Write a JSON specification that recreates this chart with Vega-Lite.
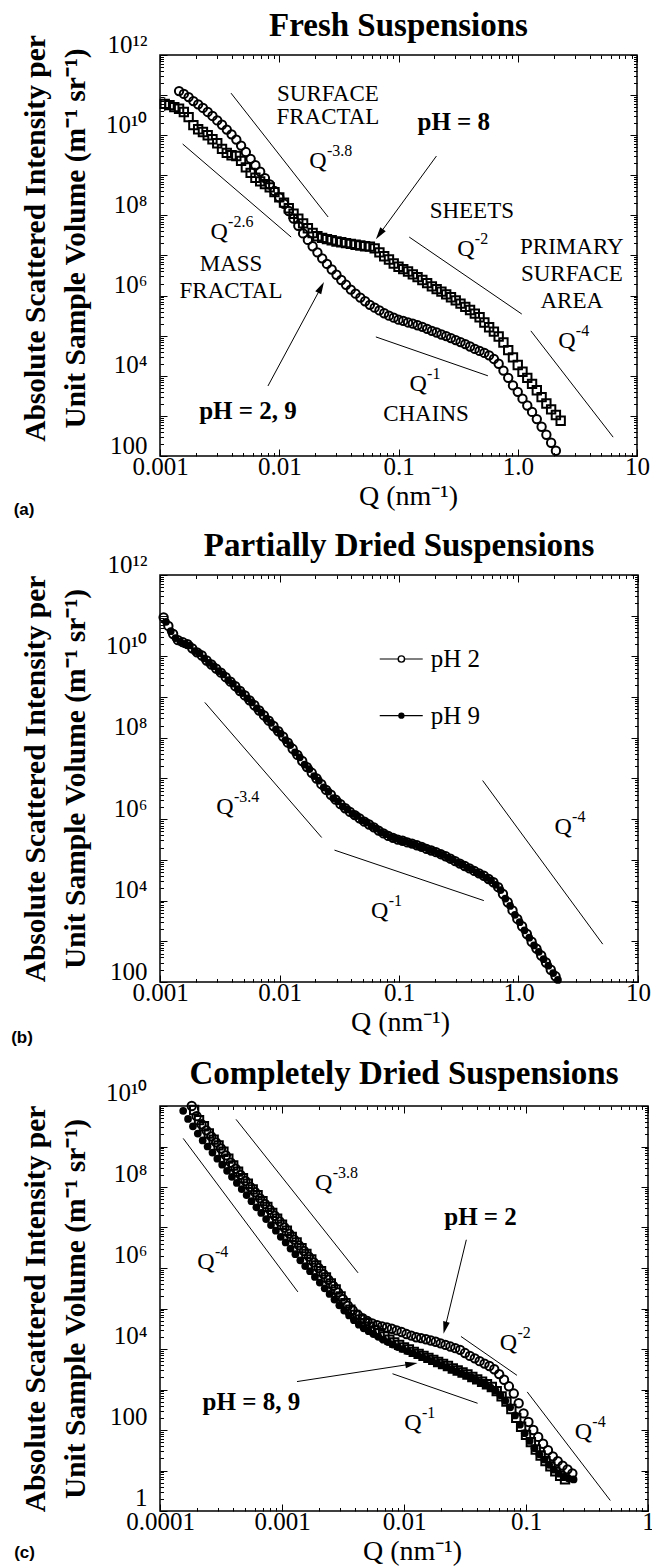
{
"$schema": "https://vega.github.io/schema/vega-lite/v6.json",
"background": "white",
"padding": {"left": 10, "top": 9, "right": 0, "bottom": 0},
"config": {
 "font": "Liberation Serif",
 "view": {"stroke": "black", "strokeWidth": 1.5},
 "axis": {"domain": false, "grid": false, "tickColor": "black", "tickWidth": 1, "labelColor": "black", "titleColor": "black", "labelFont": "Liberation Serif", "titleFont": "Liberation Serif", "labelFlush": false, "labelOverlap": false},
 "title": {"font": "Liberation Serif", "fontSize": 33, "fontWeight": "bold", "color": "black", "anchor": "middle", "offset": -11},
 "text": {"font": "Liberation Serif", "color": "black"}
},
"datasets": {
 "a_pts": [
  {"s":"c","q":1.445e-3,"i":1.26e11},{"s":"c","q":1.585e-3,"i":1.07e11},{"s":"c","q":1.738e-3,"i":8.91e10},{"s":"c","q":1.905e-3,"i":7.08e10},{"s":"c","q":2.089e-3,"i":5.89e10},{"s":"c","q":2.291e-3,"i":4.79e10},{"s":"c","q":2.512e-3,"i":3.80e10},{"s":"c","q":2.754e-3,"i":3.02e10},{"s":"c","q":3.020e-3,"i":2.34e10},{"s":"c","q":3.311e-3,"i":1.82e10},{"s":"c","q":3.631e-3,"i":1.38e10},{"s":"c","q":3.981e-3,"i":1.05e10},{"s":"c","q":4.365e-3,"i":7.76e9},{"s":"c","q":4.786e-3,"i":5.50e9},{"s":"c","q":5.248e-3,"i":3.80e9},{"s":"c","q":5.754e-3,"i":2.57e9},{"s":"c","q":6.310e-3,"i":1.78e9},{"s":"c","q":6.918e-3,"i":1.23e9},{"s":"c","q":7.586e-3,"i":8.51e8},{"s":"c","q":8.318e-3,"i":5.89e8},{"s":"c","q":9.120e-3,"i":4.07e8},{"s":"c","q":0.01,"i":2.82e8},{"s":"c","q":0.01096,"i":1.95e8},{"s":"c","q":0.01202,"i":1.29e8},{"s":"c","q":0.01318,"i":8.32e7},{"s":"c","q":0.01445,"i":5.50e7},{"s":"c","q":0.01585,"i":3.55e7},{"s":"c","q":0.01738,"i":2.45e7},{"s":"c","q":0.01905,"i":1.70e7},{"s":"c","q":0.02089,"i":1.20e7},{"s":"c","q":0.02291,"i":8.51e6},{"s":"c","q":0.02512,"i":6.17e6},{"s":"c","q":0.02754,"i":4.47e6},{"s":"c","q":0.03020,"i":3.31e6},{"s":"c","q":0.03311,"i":2.45e6},{"s":"c","q":0.03631,"i":1.86e6},{"s":"c","q":0.03981,"i":1.41e6},{"s":"c","q":0.04365,"i":1.12e6},{"s":"c","q":0.04786,"i":8.91e5},{"s":"c","q":0.05248,"i":7.24e5},{"s":"c","q":0.05754,"i":5.89e5},{"s":"c","q":0.06310,"i":5.01e5},{"s":"c","q":0.06918,"i":4.27e5},{"s":"c","q":0.07586,"i":3.63e5},{"s":"c","q":0.08318,"i":3.16e5},{"s":"c","q":0.09120,"i":2.82e5},{"s":"c","q":0.1,"i":2.51e5},{"s":"c","q":0.1096,"i":2.34e5},{"s":"c","q":0.1202,"i":2.14e5},{"s":"c","q":0.1318,"i":2.00e5},{"s":"c","q":0.1445,"i":1.82e5},{"s":"c","q":0.1585,"i":1.66e5},{"s":"c","q":0.1738,"i":1.48e5},{"s":"c","q":0.1905,"i":1.32e5},{"s":"c","q":0.2089,"i":1.20e5},{"s":"c","q":0.2291,"i":1.07e5},{"s":"c","q":0.2512,"i":9.77e4},{"s":"c","q":0.2754,"i":8.71e4},{"s":"c","q":0.3020,"i":7.76e4},{"s":"c","q":0.3311,"i":6.92e4},{"s":"c","q":0.3631,"i":6.17e4},{"s":"c","q":0.3981,"i":5.37e4},{"s":"c","q":0.4365,"i":4.68e4},{"s":"c","q":0.4786,"i":4.17e4},{"s":"c","q":0.5248,"i":3.72e4},{"s":"c","q":0.5754,"i":3.24e4},{"s":"c","q":0.6310,"i":2.63e4},{"s":"c","q":0.6918,"i":2.00e4},{"s":"c","q":0.7586,"i":1.35e4},{"s":"c","q":0.8318,"i":8.91e3},{"s":"c","q":0.9120,"i":5.75e3},{"s":"c","q":1.0,"i":3.98e3},{"s":"c","q":1.096,"i":2.69e3},{"s":"c","q":1.202,"i":1.82e3},{"s":"c","q":1.318,"i":1.26e3},{"s":"c","q":1.445,"i":832},{"s":"c","q":1.585,"i":537},{"s":"c","q":1.738,"i":339},{"s":"c","q":1.905,"i":214},{"s":"c","q":2.089,"i":135},
  {"s":"s","q":1.096e-3,"i":6.03e10},{"s":"s","q":1.202e-3,"i":5.62e10},{"s":"s","q":1.318e-3,"i":5.01e10},{"s":"s","q":1.445e-3,"i":4.57e10},{"s":"s","q":1.585e-3,"i":3.80e10},{"s":"s","q":1.738e-3,"i":2.82e10},{"s":"s","q":1.905e-3,"i":1.78e10},{"s":"s","q":2.089e-3,"i":1.41e10},{"s":"s","q":2.291e-3,"i":1.20e10},{"s":"s","q":2.512e-3,"i":1.0e10},{"s":"s","q":2.754e-3,"i":7.94e9},{"s":"s","q":3.020e-3,"i":6.31e9},{"s":"s","q":3.311e-3,"i":4.57e9},{"s":"s","q":3.631e-3,"i":3.63e9},{"s":"s","q":3.981e-3,"i":3.16e9},{"s":"s","q":4.365e-3,"i":3.02e9},{"s":"s","q":4.786e-3,"i":2.29e9},{"s":"s","q":5.248e-3,"i":1.58e9},{"s":"s","q":5.754e-3,"i":1.15e9},{"s":"s","q":6.310e-3,"i":8.71e8},{"s":"s","q":6.918e-3,"i":7.08e8},{"s":"s","q":7.586e-3,"i":6.03e8},{"s":"s","q":8.318e-3,"i":5.01e8},{"s":"s","q":9.120e-3,"i":3.80e8},{"s":"s","q":0.01,"i":2.82e8},{"s":"s","q":0.01096,"i":2.09e8},{"s":"s","q":0.01202,"i":1.51e8},{"s":"s","q":0.01318,"i":1.10e8},{"s":"s","q":0.01445,"i":8.32e7},{"s":"s","q":0.01585,"i":6.31e7},{"s":"s","q":0.01738,"i":4.79e7},{"s":"s","q":0.01905,"i":3.63e7},{"s":"s","q":0.02089,"i":3.02e7},{"s":"s","q":0.02291,"i":2.75e7},{"s":"s","q":0.02512,"i":2.57e7},{"s":"s","q":0.02754,"i":2.40e7},{"s":"s","q":0.03020,"i":2.24e7},{"s":"s","q":0.03311,"i":2.14e7},{"s":"s","q":0.03631,"i":2.04e7},{"s":"s","q":0.03981,"i":1.95e7},{"s":"s","q":0.04365,"i":1.86e7},{"s":"s","q":0.04786,"i":1.78e7},{"s":"s","q":0.05248,"i":1.70e7},{"s":"s","q":0.05754,"i":1.66e7},{"s":"s","q":0.06310,"i":1.51e7},{"s":"s","q":0.06918,"i":1.20e7},{"s":"s","q":0.07586,"i":9.55e6},{"s":"s","q":0.08318,"i":7.94e6},{"s":"s","q":0.09120,"i":6.31e6},{"s":"s","q":0.1,"i":5.25e6},{"s":"s","q":0.1096,"i":4.57e6},{"s":"s","q":0.1202,"i":3.98e6},{"s":"s","q":0.1318,"i":3.39e6},{"s":"s","q":0.1445,"i":2.88e6},{"s":"s","q":0.1585,"i":2.45e6},{"s":"s","q":0.1738,"i":2.04e6},{"s":"s","q":0.1905,"i":1.70e6},{"s":"s","q":0.2089,"i":1.45e6},{"s":"s","q":0.2291,"i":1.26e6},{"s":"s","q":0.2512,"i":1.07e6},{"s":"s","q":0.2754,"i":9.12e5},{"s":"s","q":0.3020,"i":7.59e5},{"s":"s","q":0.3311,"i":6.31e5},{"s":"s","q":0.3631,"i":5.25e5},{"s":"s","q":0.3981,"i":4.37e5},{"s":"s","q":0.4365,"i":3.55e5},{"s":"s","q":0.4786,"i":2.88e5},{"s":"s","q":0.5248,"i":2.14e5},{"s":"s","q":0.5754,"i":1.62e5},{"s":"s","q":0.6310,"i":1.26e5},{"s":"s","q":0.6918,"i":9.55e4},{"s":"s","q":0.7586,"i":6.76e4},{"s":"s","q":0.8318,"i":4.37e4},{"s":"s","q":0.9120,"i":2.88e4},{"s":"s","q":1.0,"i":1.86e4},{"s":"s","q":1.096,"i":1.26e4},{"s":"s","q":1.202,"i":8.91e3},{"s":"s","q":1.318,"i":6.31e3},{"s":"s","q":1.445,"i":4.37e3},{"s":"s","q":1.585,"i":2.95e3},{"s":"s","q":1.738,"i":2.04e3},{"s":"s","q":1.905,"i":1.45e3},{"s":"s","q":2.089,"i":1.05e3},{"s":"s","q":2.291,"i":759}
 ],
 "a_err": [{"q":1.096e-3,"i":3.98e10,"i2":8.91e10}],
 "a_guides": [
  {"g":"m","q":1.549e-3,"i":6.03e9},{"g":"m","q":0.01259,"i":2.88e7},
  {"g":"s","q":3.94e-3,"i":1.12e11},{"g":"s","q":0.0257,"i":9.12e7},
  {"g":"c","q":0.0646,"i":9.33e4},{"g":"c","q":0.562,"i":1.0e4},
  {"g":"h","q":0.123,"i":2.88e7},{"g":"h","q":1.081,"i":3.47e5},
  {"g":"p","q":1.288,"i":1.32e5},{"g":"p","q":6.31,"i":295}
 ],
 "a_arr": [
  {"g":"p8","q":0.208,"i":3.02e9},{"g":"p8","q":0.0692,"i":3.40e7},
  {"g":"p29","q":8.04e-3,"i":5.57e3},{"g":"p29","q":0.02244,"i":1.61e6}
 ],
 "a_txt": [
  {"t":"SURFACE","q":0.0256,"i":1.07e11},{"t":"FRACTAL","q":0.0256,"i":2.82e10},
  {"t":"SHEETS","q":0.412,"i":1.29e8},
  {"t":"PRIMARY","q":2.84,"i":1.62e7},{"t":"SURFACE","q":2.84,"i":3.47e6},{"t":"AREA","q":2.84,"i":7.41e5},
  {"t":"MASS","q":3.94e-3,"i":6.17e6},{"t":"FRACTAL","q":3.94e-3,"i":1.29e6},
  {"t":"CHAINS","q":0.170,"i":1.12e3}
 ],
 "a_bold": [{"t":"pH = 8","q":0.291,"i":2.14e10},{"t":"pH = 2, 9","q":5.47e-3,"i":1.32e3}],
 "a_q": [{"sup":"-3.8","q":0.0211,"i":2.29e9},{"sup":"-2.6","q":3.13e-3,"i":3.89e7},{"sup":"-2","q":0.367,"i":1.45e7},{"sup":"-4","q":2.58,"i":7.41e4},{"sup":"-1","q":0.146,"i":6.31e3}],
 "a_lab": [{"t":"(a)","q":7.24e-5,"i":4.5}],
 "b_pts": [
  {"s":"o","q":1.072e-3,"i":9.12e10},{"s":"o","q":1.175e-3,"i":5.62e10},{"s":"o","q":1.288e-3,"i":3.55e10},{"s":"o","q":1.413e-3,"i":2.51e10},{"s":"o","q":1.549e-3,"i":2.24e10},{"s":"o","q":1.698e-3,"i":2.0e10},{"s":"o","q":1.862e-3,"i":1.58e10},{"s":"o","q":2.042e-3,"i":1.26e10},{"s":"o","q":2.239e-3,"i":1.05e10},{"s":"o","q":2.455e-3,"i":7.94e9},{"s":"o","q":2.692e-3,"i":6.31e9},{"s":"o","q":2.951e-3,"i":5.01e9},{"s":"o","q":3.236e-3,"i":3.98e9},{"s":"o","q":3.548e-3,"i":3.09e9},{"s":"o","q":3.890e-3,"i":2.40e9},{"s":"o","q":4.266e-3,"i":1.86e9},{"s":"o","q":4.677e-3,"i":1.41e9},{"s":"o","q":5.129e-3,"i":1.10e9},{"s":"o","q":5.623e-3,"i":8.32e8},{"s":"o","q":6.166e-3,"i":6.31e8},{"s":"o","q":6.761e-3,"i":4.68e8},{"s":"o","q":7.413e-3,"i":3.55e8},{"s":"o","q":8.128e-3,"i":2.63e8},{"s":"o","q":8.913e-3,"i":1.95e8},{"s":"o","q":9.772e-3,"i":1.45e8},{"s":"o","q":0.01072,"i":1.07e8},{"s":"o","q":0.01175,"i":7.59e7},{"s":"o","q":0.01288,"i":5.37e7},{"s":"o","q":0.01413,"i":3.80e7},{"s":"o","q":0.01549,"i":2.69e7},{"s":"o","q":0.01698,"i":1.91e7},{"s":"o","q":0.01862,"i":1.38e7},{"s":"o","q":0.02042,"i":1.0e7},{"s":"o","q":0.02239,"i":7.24e6},{"s":"o","q":0.02455,"i":5.25e6},{"s":"o","q":0.02692,"i":3.98e6},{"s":"o","q":0.02951,"i":3.02e6},{"s":"o","q":0.03236,"i":2.34e6},{"s":"o","q":0.03548,"i":1.86e6},{"s":"o","q":0.03890,"i":1.51e6},{"s":"o","q":0.04266,"i":1.26e6},{"s":"o","q":0.04677,"i":1.05e6},{"s":"o","q":0.05129,"i":8.71e5},{"s":"o","q":0.05623,"i":7.41e5},{"s":"o","q":0.06166,"i":6.31e5},{"s":"o","q":0.06761,"i":5.25e5},{"s":"o","q":0.07413,"i":4.47e5},{"s":"o","q":0.08128,"i":3.89e5},{"s":"o","q":0.08913,"i":3.47e5},{"s":"o","q":0.09772,"i":3.16e5},{"s":"o","q":0.1072,"i":2.95e5},{"s":"o","q":0.1175,"i":2.69e5},{"s":"o","q":0.1288,"i":2.51e5},{"s":"o","q":0.1413,"i":2.29e5},{"s":"o","q":0.1549,"i":2.09e5},{"s":"o","q":0.1698,"i":1.86e5},{"s":"o","q":0.1862,"i":1.70e5},{"s":"o","q":0.2042,"i":1.55e5},{"s":"o","q":0.2239,"i":1.38e5},{"s":"o","q":0.2455,"i":1.23e5},{"s":"o","q":0.2692,"i":1.07e5},{"s":"o","q":0.2951,"i":9.33e4},{"s":"o","q":0.3236,"i":8.13e4},{"s":"o","q":0.3548,"i":7.08e4},{"s":"o","q":0.3890,"i":6.17e4},{"s":"o","q":0.4266,"i":5.37e4},{"s":"o","q":0.4677,"i":4.68e4},{"s":"o","q":0.5129,"i":4.07e4},{"s":"o","q":0.5623,"i":3.39e4},{"s":"o","q":0.6166,"i":2.82e4},{"s":"o","q":0.6761,"i":2.14e4},{"s":"o","q":0.7413,"i":1.45e4},{"s":"o","q":0.8128,"i":9.12e3},{"s":"o","q":0.8913,"i":5.75e3},{"s":"o","q":0.9772,"i":3.55e3},{"s":"o","q":1.072,"i":2.34e3},{"s":"o","q":1.175,"i":1.51e3},{"s":"o","q":1.288,"i":977},{"s":"o","q":1.413,"i":661},{"s":"o","q":1.549,"i":447},{"s":"o","q":1.698,"i":302},{"s":"o","q":1.862,"i":200},{"s":"o","q":2.042,"i":138},
  {"s":"f","q":1.122e-3,"i":7.08e10},{"s":"f","q":1.230e-3,"i":4.17e10},{"s":"f","q":1.349e-3,"i":2.82e10},{"s":"f","q":1.479e-3,"i":2.29e10},{"s":"f","q":1.622e-3,"i":2.0e10},{"s":"f","q":1.778e-3,"i":1.86e10},{"s":"f","q":1.950e-3,"i":1.35e10},{"s":"f","q":2.138e-3,"i":1.20e10},{"s":"f","q":2.344e-3,"i":8.91e9},{"s":"f","q":2.570e-3,"i":6.92e9},{"s":"f","q":2.818e-3,"i":5.75e9},{"s":"f","q":3.090e-3,"i":4.37e9},{"s":"f","q":3.388e-3,"i":3.63e9},{"s":"f","q":3.715e-3,"i":2.63e9},{"s":"f","q":4.074e-3,"i":2.14e9},{"s":"f","q":4.467e-3,"i":1.58e9},{"s":"f","q":4.898e-3,"i":1.26e9},{"s":"f","q":5.370e-3,"i":9.33e8},{"s":"f","q":5.888e-3,"i":7.41e8},{"s":"f","q":6.457e-3,"i":5.25e8},{"s":"f","q":7.079e-3,"i":4.17e8},{"s":"f","q":7.762e-3,"i":2.95e8},{"s":"f","q":8.511e-3,"i":2.34e8},{"s":"f","q":9.333e-3,"i":1.62e8},{"s":"f","q":0.01023,"i":1.26e8},{"s":"f","q":0.01122,"i":8.71e7},{"s":"f","q":0.01230,"i":6.61e7},{"s":"f","q":0.01349,"i":4.37e7},{"s":"f","q":0.01479,"i":3.31e7},{"s":"f","q":0.01622,"i":2.19e7},{"s":"f","q":0.01778,"i":1.70e7},{"s":"f","q":0.01950,"i":1.15e7},{"s":"f","q":0.02138,"i":8.91e6},{"s":"f","q":0.02344,"i":6.03e6},{"s":"f","q":0.02570,"i":4.79e6},{"s":"f","q":0.02818,"i":3.31e6},{"s":"f","q":0.03090,"i":2.75e6},{"s":"f","q":0.03388,"i":2.04e6},{"s":"f","q":0.03715,"i":1.74e6},{"s":"f","q":0.04074,"i":1.35e6},{"s":"f","q":0.04467,"i":1.20e6},{"s":"f","q":0.04898,"i":9.33e5},{"s":"f","q":0.05370,"i":8.32e5},{"s":"f","q":0.05888,"i":6.76e5},{"s":"f","q":0.06457,"i":5.89e5},{"s":"f","q":0.07079,"i":4.79e5},{"s":"f","q":0.07762,"i":4.27e5},{"s":"f","q":0.08511,"i":3.63e5},{"s":"f","q":0.09333,"i":3.39e5},{"s":"f","q":0.1023,"i":3.02e5},{"s":"f","q":0.1122,"i":2.88e5},{"s":"f","q":0.1230,"i":2.57e5},{"s":"f","q":0.1349,"i":2.45e5},{"s":"f","q":0.1479,"i":2.14e5},{"s":"f","q":0.1622,"i":2.04e5},{"s":"f","q":0.1778,"i":1.74e5},{"s":"f","q":0.1950,"i":1.66e5},{"s":"f","q":0.2138,"i":1.45e5},{"s":"f","q":0.2344,"i":1.32e5},{"s":"f","q":0.2570,"i":1.12e5},{"s":"f","q":0.2818,"i":1.02e5},{"s":"f","q":0.3090,"i":8.51e4},{"s":"f","q":0.3388,"i":7.76e4},{"s":"f","q":0.3715,"i":6.46e4},{"s":"f","q":0.4074,"i":5.89e4},{"s":"f","q":0.4467,"i":4.90e4},{"s":"f","q":0.4898,"i":4.37e4},{"s":"f","q":0.5370,"i":3.63e4},{"s":"f","q":0.5888,"i":3.16e4},{"s":"f","q":0.6457,"i":2.45e4},{"s":"f","q":0.7079,"i":1.82e4},{"s":"f","q":0.7762,"i":1.12e4},{"s":"f","q":0.8511,"i":7.41e3},{"s":"f","q":0.9333,"i":4.47e3},{"s":"f","q":1.023,"i":2.95e3},{"s":"f","q":1.122,"i":1.86e3},{"s":"f","q":1.230,"i":1.23e3},{"s":"f","q":1.349,"i":794},{"s":"f","q":1.479,"i":550},{"s":"f","q":1.622,"i":363},{"s":"f","q":1.778,"i":251},{"s":"f","q":1.950,"i":166},{"s":"f","q":2.138,"i":112}
 ],
 "b_guides": [
  {"g":"a","q":2.371e-3,"i":7.41e8},{"g":"a","q":0.02254,"i":3.55e5},
  {"g":"b","q":0.02884,"i":1.74e5},{"g":"b","q":0.513,"i":1.0e4},
  {"g":"c","q":0.501,"i":8.91e6},{"g":"c","q":5.07,"i":851}
 ],
 "b_leg": [
  {"g":"o","q":0.0690,"i":8.63e9},{"g":"o","q":0.158,"i":8.63e9},
  {"g":"f","q":0.0690,"i":3.49e8},{"g":"f","q":0.158,"i":3.49e8}
 ],
 "b_legpts": [{"s":"o","q":0.1047,"i":8.63e9},{"s":"f","q":0.1047,"i":3.49e8}],
 "b_txt": [{"t":"pH 2","q":0.1845,"i":8.63e9},{"t":"pH 9","q":0.1845,"i":3.49e8}],
 "b_q": [{"sup":"-3.4","q":3.50e-3,"i":2.0e6},{"sup":"-1","q":0.069,"i":5.5e3},{"sup":"-4","q":2.36,"i":6.46e5}],
 "b_lab": [{"t":"(b)","q":7.0e-5,"i":4.2}],
 "c_pts": [
  {"s":"o","q":1.820e-4,"i":1.0e10},{"s":"o","q":1.995e-4,"i":5.62e9},{"s":"o","q":2.188e-4,"i":3.55e9},{"s":"o","q":2.399e-4,"i":2.51e9},{"s":"o","q":2.630e-4,"i":1.78e9},{"s":"o","q":2.884e-4,"i":1.26e9},{"s":"o","q":3.162e-4,"i":8.91e8},{"s":"o","q":3.467e-4,"i":6.03e8},{"s":"o","q":3.802e-4,"i":3.98e8},{"s":"o","q":4.169e-4,"i":2.82e8},{"s":"o","q":4.571e-4,"i":2.0e8},{"s":"o","q":5.012e-4,"i":1.41e8},{"s":"o","q":5.495e-4,"i":1.0e8},{"s":"o","q":6.026e-4,"i":7.41e7},{"s":"o","q":6.607e-4,"i":5.25e7},{"s":"o","q":7.244e-4,"i":3.80e7},{"s":"o","q":7.943e-4,"i":2.75e7},{"s":"o","q":8.710e-4,"i":1.95e7},{"s":"o","q":9.550e-4,"i":1.41e7},{"s":"o","q":1.047e-3,"i":1.0e7},{"s":"o","q":1.148e-3,"i":7.08e6},{"s":"o","q":1.259e-3,"i":5.01e6},{"s":"o","q":1.380e-3,"i":3.63e6},{"s":"o","q":1.514e-3,"i":2.63e6},{"s":"o","q":1.660e-3,"i":1.91e6},{"s":"o","q":1.820e-3,"i":1.38e6},{"s":"o","q":1.995e-3,"i":1.0e6},{"s":"o","q":2.188e-3,"i":7.08e5},{"s":"o","q":2.399e-3,"i":5.13e5},{"s":"o","q":2.630e-3,"i":3.63e5},{"s":"o","q":2.884e-3,"i":2.51e5},{"s":"o","q":3.162e-3,"i":1.70e5},{"s":"o","q":3.467e-3,"i":1.17e5},{"s":"o","q":3.802e-3,"i":8.91e4},{"s":"o","q":4.169e-3,"i":7.08e4},{"s":"o","q":4.571e-3,"i":5.75e4},{"s":"o","q":5.012e-3,"i":4.90e4},{"s":"o","q":5.495e-3,"i":4.27e4},{"s":"o","q":6.026e-3,"i":3.89e4},{"s":"o","q":6.607e-3,"i":3.63e4},{"s":"o","q":7.244e-3,"i":3.39e4},{"s":"o","q":7.943e-3,"i":3.16e4},{"s":"o","q":8.710e-3,"i":2.88e4},{"s":"o","q":9.550e-3,"i":2.63e4},{"s":"o","q":0.01047,"i":2.34e4},{"s":"o","q":0.01148,"i":2.14e4},{"s":"o","q":0.01259,"i":1.95e4},{"s":"o","q":0.01380,"i":1.86e4},{"s":"o","q":0.01514,"i":1.74e4},{"s":"o","q":0.01660,"i":1.62e4},{"s":"o","q":0.01820,"i":1.51e4},{"s":"o","q":0.01995,"i":1.38e4},{"s":"o","q":0.02188,"i":1.26e4},{"s":"o","q":0.02399,"i":1.15e4},{"s":"o","q":0.02630,"i":1.05e4},{"s":"o","q":0.02884,"i":9.55e3},{"s":"o","q":0.03162,"i":7.94e3},{"s":"o","q":0.03467,"i":6.76e3},{"s":"o","q":0.03802,"i":5.89e3},{"s":"o","q":0.04169,"i":5.01e3},{"s":"o","q":0.04571,"i":4.37e3},{"s":"o","q":0.05012,"i":3.80e3},{"s":"o","q":0.05495,"i":3.16e3},{"s":"o","q":0.06026,"i":2.40e3},{"s":"o","q":0.06607,"i":1.74e3},{"s":"o","q":0.07244,"i":1.20e3},{"s":"o","q":0.07943,"i":794},{"s":"o","q":0.08710,"i":457},{"s":"o","q":0.09550,"i":257},{"s":"o","q":0.1047,"i":158},{"s":"o","q":0.1148,"i":100},{"s":"o","q":0.1259,"i":67.6},{"s":"o","q":0.1380,"i":45.7},{"s":"o","q":0.1514,"i":31.6},{"s":"o","q":0.1660,"i":22.4},{"s":"o","q":0.1820,"i":17.0},{"s":"o","q":0.1995,"i":13.2},{"s":"o","q":0.2188,"i":10.7},{"s":"o","q":0.2399,"i":8.51},
  {"s":"s","q":1.905e-4,"i":7.94e9},{"s":"s","q":2.089e-4,"i":4.47e9},{"s":"s","q":2.291e-4,"i":3.16e9},{"s":"s","q":2.512e-4,"i":2.09e9},{"s":"s","q":2.754e-4,"i":1.48e9},{"s":"s","q":3.020e-4,"i":1.07e9},{"s":"s","q":3.311e-4,"i":7.41e8},{"s":"s","q":3.631e-4,"i":5.01e8},{"s":"s","q":3.981e-4,"i":3.39e8},{"s":"s","q":4.365e-4,"i":2.40e8},{"s":"s","q":4.786e-4,"i":1.66e8},{"s":"s","q":5.248e-4,"i":1.20e8},{"s":"s","q":5.754e-4,"i":8.71e7},{"s":"s","q":6.310e-4,"i":6.31e7},{"s":"s","q":6.918e-4,"i":4.47e7},{"s":"s","q":7.586e-4,"i":3.24e7},{"s":"s","q":8.318e-4,"i":2.29e7},{"s":"s","q":9.120e-4,"i":1.66e7},{"s":"s","q":1.0e-3,"i":1.17e7},{"s":"s","q":1.096e-3,"i":8.32e6},{"s":"s","q":1.202e-3,"i":5.89e6},{"s":"s","q":1.318e-3,"i":4.27e6},{"s":"s","q":1.445e-3,"i":3.09e6},{"s":"s","q":1.585e-3,"i":2.24e6},{"s":"s","q":1.738e-3,"i":1.62e6},{"s":"s","q":1.905e-3,"i":1.15e6},{"s":"s","q":2.089e-3,"i":8.32e5},{"s":"s","q":2.291e-3,"i":5.89e5},{"s":"s","q":2.512e-3,"i":4.17e5},{"s":"s","q":2.754e-3,"i":2.95e5},{"s":"s","q":3.020e-3,"i":2.0e5},{"s":"s","q":3.311e-3,"i":1.35e5},{"s":"s","q":3.631e-3,"i":9.33e4},{"s":"s","q":3.981e-3,"i":6.92e4},{"s":"s","q":4.365e-3,"i":5.37e4},{"s":"s","q":4.786e-3,"i":4.37e4},{"s":"s","q":5.248e-3,"i":3.55e4},{"s":"s","q":5.754e-3,"i":2.88e4},{"s":"s","q":6.310e-3,"i":2.45e4},{"s":"s","q":6.918e-3,"i":2.04e4},{"s":"s","q":7.586e-3,"i":1.70e4},{"s":"s","q":8.318e-3,"i":1.45e4},{"s":"s","q":9.120e-3,"i":1.26e4},{"s":"s","q":0.01,"i":1.10e4},{"s":"s","q":0.01096,"i":9.77e3},{"s":"s","q":0.01202,"i":8.51e3},{"s":"s","q":0.01318,"i":7.59e3},{"s":"s","q":0.01445,"i":6.76e3},{"s":"s","q":0.01585,"i":6.03e3},{"s":"s","q":0.01738,"i":5.37e3},{"s":"s","q":0.01905,"i":4.79e3},{"s":"s","q":0.02089,"i":4.27e3},{"s":"s","q":0.02291,"i":3.80e3},{"s":"s","q":0.02512,"i":3.31e3},{"s":"s","q":0.02754,"i":2.95e3},{"s":"s","q":0.03020,"i":2.63e3},{"s":"s","q":0.03311,"i":2.34e3},{"s":"s","q":0.03631,"i":2.04e3},{"s":"s","q":0.03981,"i":1.78e3},{"s":"s","q":0.04365,"i":1.55e3},{"s":"s","q":0.04786,"i":1.35e3},{"s":"s","q":0.05248,"i":1.15e3},{"s":"s","q":0.05754,"i":912},{"s":"s","q":0.06310,"i":676},{"s":"s","q":0.06918,"i":501},{"s":"s","q":0.07586,"i":331},{"s":"s","q":0.08318,"i":200},{"s":"s","q":0.09120,"i":120},{"s":"s","q":0.1,"i":75.9},{"s":"s","q":0.1096,"i":50.1},{"s":"s","q":0.1202,"i":33.1},{"s":"s","q":0.1318,"i":23.4},{"s":"s","q":0.1445,"i":17.0},{"s":"s","q":0.1585,"i":12.6},{"s":"s","q":0.1738,"i":9.55},{"s":"s","q":0.1905,"i":7.41},{"s":"s","q":0.2089,"i":6.03},
  {"s":"f","q":1.549e-4,"i":7.59e9},{"s":"f","q":1.698e-4,"i":4.79e9},{"s":"f","q":1.862e-4,"i":3.16e9},{"s":"f","q":2.042e-4,"i":2.09e9},{"s":"f","q":2.239e-4,"i":1.41e9},{"s":"f","q":2.455e-4,"i":1.0e9},{"s":"f","q":2.692e-4,"i":7.08e8},{"s":"f","q":2.951e-4,"i":5.01e8},{"s":"f","q":3.236e-4,"i":3.55e8},{"s":"f","q":3.548e-4,"i":2.51e8},{"s":"f","q":3.890e-4,"i":1.78e8},{"s":"f","q":4.266e-4,"i":1.26e8},{"s":"f","q":4.677e-4,"i":8.91e7},{"s":"f","q":5.129e-4,"i":6.31e7},{"s":"f","q":5.623e-4,"i":4.47e7},{"s":"f","q":6.166e-4,"i":3.16e7},{"s":"f","q":6.761e-4,"i":2.29e7},{"s":"f","q":7.413e-4,"i":1.62e7},{"s":"f","q":8.128e-4,"i":1.15e7},{"s":"f","q":8.913e-4,"i":8.32e6},{"s":"f","q":9.772e-4,"i":5.89e6},{"s":"f","q":1.072e-3,"i":4.27e6},{"s":"f","q":1.175e-3,"i":3.02e6},{"s":"f","q":1.288e-3,"i":2.19e6},{"s":"f","q":1.413e-3,"i":1.55e6},{"s":"f","q":1.549e-3,"i":1.12e6},{"s":"f","q":1.698e-3,"i":8.32e5},{"s":"f","q":1.862e-3,"i":6.03e5},{"s":"f","q":2.042e-3,"i":4.37e5},{"s":"f","q":2.239e-3,"i":3.16e5},{"s":"f","q":2.455e-3,"i":2.29e5},{"s":"f","q":2.692e-3,"i":1.66e5},{"s":"f","q":2.951e-3,"i":1.20e5},{"s":"f","q":3.236e-3,"i":8.91e4},{"s":"f","q":3.548e-3,"i":6.76e4},{"s":"f","q":3.890e-3,"i":5.13e4},{"s":"f","q":4.266e-3,"i":3.98e4},{"s":"f","q":4.677e-3,"i":3.24e4},{"s":"f","q":5.129e-3,"i":2.75e4},{"s":"f","q":5.623e-3,"i":2.34e4},{"s":"f","q":6.166e-3,"i":2.0e4},{"s":"f","q":6.761e-3,"i":1.70e4},{"s":"f","q":7.413e-3,"i":1.48e4},{"s":"f","q":8.128e-3,"i":1.29e4},{"s":"f","q":8.913e-3,"i":1.12e4},{"s":"f","q":9.772e-3,"i":1.0e4},{"s":"f","q":0.01072,"i":8.91e3},{"s":"f","q":0.01175,"i":7.94e3},{"s":"f","q":0.01288,"i":7.08e3},{"s":"f","q":0.01413,"i":6.31e3},{"s":"f","q":0.01549,"i":5.62e3},{"s":"f","q":0.01698,"i":5.01e3},{"s":"f","q":0.01862,"i":4.47e3},{"s":"f","q":0.02042,"i":3.98e3},{"s":"f","q":0.02239,"i":3.55e3},{"s":"f","q":0.02455,"i":3.16e3},{"s":"f","q":0.02692,"i":2.82e3},{"s":"f","q":0.02951,"i":2.51e3},{"s":"f","q":0.03236,"i":2.24e3},{"s":"f","q":0.03548,"i":2.0e3},{"s":"f","q":0.03890,"i":1.74e3},{"s":"f","q":0.04266,"i":1.51e3},{"s":"f","q":0.04677,"i":1.32e3},{"s":"f","q":0.05129,"i":1.12e3},{"s":"f","q":0.05623,"i":933},{"s":"f","q":0.06166,"i":724},{"s":"f","q":0.06761,"i":525},{"s":"f","q":0.07413,"i":363},{"s":"f","q":0.08128,"i":229},{"s":"f","q":0.08913,"i":135},{"s":"f","q":0.09772,"i":83.2},{"s":"f","q":0.1072,"i":53.7},{"s":"f","q":0.1175,"i":35.5},{"s":"f","q":0.1288,"i":25.1},{"s":"f","q":0.1413,"i":18.6},{"s":"f","q":0.1549,"i":13.8},{"s":"f","q":0.1698,"i":10.5},{"s":"f","q":0.1862,"i":8.32},{"s":"f","q":0.2042,"i":6.92},{"s":"f","q":0.2239,"i":6.31},{"s":"f","q":0.2455,"i":6.03}
 ],
 "c_guides": [
  {"g":"a","q":1.549e-4,"i":1.585e9},{"g":"a","q":1.349e-3,"i":2.57e5},
  {"g":"b","q":4.20e-4,"i":4.68e9},{"g":"b","q":4.20e-3,"i":7.59e5},
  {"g":"c","q":0.0293,"i":2.04e4},{"g":"c","q":0.0843,"i":2.24e3},
  {"g":"d","q":8.05e-3,"i":2.45e3},{"g":"d","q":0.0401,"i":457},
  {"g":"e","q":0.1023,"i":871},{"g":"e","q":0.491,"i":1.82}
 ],
 "c_arr": [
  {"g":"p2","q":0.03243,"i":4.98e6},{"g":"p2","q":0.02168,"i":3.33e4},
  {"g":"p89","q":1.327e-3,"i":1.57e3},{"g":"p89","q":0.01151,"i":4.25e3}
 ],
 "c_bold": [{"t":"pH = 2","q":0.0424,"i":1.78e7},{"t":"pH = 8, 9","q":5.61e-4,"i":490}],
 "c_q": [{"sup":"-3.8","q":2.20e-3,"i":1.29e8},{"sup":"-4","q":2.38e-4,"i":1.38e6},{"sup":"-2","q":0.0718,"i":1.41e4},{"sup":"-1","q":0.01186,"i":151},{"sup":"-4","q":0.295,"i":91}],
 "c_lab": [{"t":"(c)","q":7.76e-6,"i":0.09}]
},
"concat": [
 {
  "width": 477, "height": 401,
  "title": {"text": "Fresh Suspensions"},
  "layer": [
   {"data": {"name": "a_guides"}, "mark": {"type": "line", "color": "black", "strokeWidth": 1},
    "encoding": {
     "x": {"field": "q", "type": "quantitative", "scale": {"type": "log", "domain": [0.001, 10], "nice": false},
      "axis": {"orient": "top", "labels": false, "title": null, "values": [0.001,0.002,0.003,0.004,0.005,0.006,0.007,0.008,0.009,0.01,0.02,0.03,0.04,0.05,0.06,0.07,0.08,0.09,0.1,0.2,0.3,0.4,0.5,0.6,0.7,0.8,0.9,1,2,3,4,5,6,7,8,9,10], "tickSize": {"condition": {"test": "indexof([0.001,0.01,0.1,1,10],datum.value)>=0", "value": -7}, "value": -3.5}}},
     "y": {"field": "i", "type": "quantitative", "scale": {"type": "log", "domain": [100, 1e12], "nice": false},
      "axis": {"orient": "right", "labels": false, "title": null, "values": [1e2,2e2,3e2,4e2,5e2,6e2,7e2,8e2,9e2,1e3,2e3,3e3,4e3,5e3,6e3,7e3,8e3,9e3,1e4,2e4,3e4,4e4,5e4,6e4,7e4,8e4,9e4,1e5,2e5,3e5,4e5,5e5,6e5,7e5,8e5,9e5,1e6,2e6,3e6,4e6,5e6,6e6,7e6,8e6,9e6,1e7,2e7,3e7,4e7,5e7,6e7,7e7,8e7,9e7,1e8,2e8,3e8,4e8,5e8,6e8,7e8,8e8,9e8,1e9,2e9,3e9,4e9,5e9,6e9,7e9,8e9,9e9,1e10,2e10,3e10,4e10,5e10,6e10,7e10,8e10,9e10,1e11,2e11,3e11,4e11,5e11,6e11,7e11,8e11,9e11,1e12], "tickSize": {"condition": {"test": "indexof([1e2,1e3,1e4,1e5,1e6,1e7,1e8,1e9,1e10,1e11,1e12],datum.value)>=0", "value": -7}, "value": -3.5}}},
     "detail": {"field": "g"}
    }},
   {"data": {"name": "a_pts"}, "transform": [{"filter": "datum.s == 's'"}],
    "mark": {"type": "point", "shape": "square", "size": 70, "filled": false, "stroke": "black", "strokeWidth": 2, "opacity": 1},
    "encoding": {
     "x": {"field": "q", "type": "quantitative", "scale": {"type": "log", "domain": [0.001, 10], "nice": false},
      "axis": {"orient": "bottom", "values": [0.001,0.002,0.003,0.004,0.005,0.006,0.007,0.008,0.009,0.01,0.02,0.03,0.04,0.05,0.06,0.07,0.08,0.09,0.1,0.2,0.3,0.4,0.5,0.6,0.7,0.8,0.9,1,2,3,4,5,6,7,8,9,10], "tickSize": {"condition": {"test": "indexof([0.001,0.01,0.1,1,10],datum.value)>=0", "value": -7}, "value": -3.5},
       "labelExpr": "datum.value==0.001?'0.001':datum.value==0.01?'0.01':datum.value==0.1?'0.1':datum.value==1?'1.0':datum.value==10?'10':''",
       "labelFontSize": 25, "labelPadding": 5, "labelBaseline": "top",
       "title": "Q (nm⁻¹)", "titleFontSize": 28, "titleFontWeight": "normal", "titlePadding": 0, "titleX": 248}},
     "y": {"field": "i", "type": "quantitative", "scale": {"type": "log", "domain": [100, 1e12], "nice": false},
      "axis": {"orient": "left", "values": [1e2,2e2,3e2,4e2,5e2,6e2,7e2,8e2,9e2,1e3,2e3,3e3,4e3,5e3,6e3,7e3,8e3,9e3,1e4,2e4,3e4,4e4,5e4,6e4,7e4,8e4,9e4,1e5,2e5,3e5,4e5,5e5,6e5,7e5,8e5,9e5,1e6,2e6,3e6,4e6,5e6,6e6,7e6,8e6,9e6,1e7,2e7,3e7,4e7,5e7,6e7,7e7,8e7,9e7,1e8,2e8,3e8,4e8,5e8,6e8,7e8,8e8,9e8,1e9,2e9,3e9,4e9,5e9,6e9,7e9,8e9,9e9,1e10,2e10,3e10,4e10,5e10,6e10,7e10,8e10,9e10,1e11,2e11,3e11,4e11,5e11,6e11,7e11,8e11,9e11,1e12], "tickSize": {"condition": {"test": "indexof([1e2,1e3,1e4,1e5,1e6,1e7,1e8,1e9,1e10,1e11,1e12],datum.value)>=0", "value": -7}, "value": -3.5},
       "labelExpr": "datum.value==1e12?'10¹²':datum.value==1e10?'10¹⁰':datum.value==1e8?'10⁸':datum.value==1e6?'10⁶':datum.value==1e4?'10⁴':datum.value==100?'100':''",
       "labelFontSize": 25, "labelPadding": 20, "labelBaseline": "alphabetic", "labelOffset": -3,
       "title": ["Absolute Scattered Intensity per", "Unit Sample Volume (m⁻¹ sr⁻¹)"], "titleFontSize": 29.5, "titleFontWeight": "bold", "titleLineHeight": 40, "titlePadding": 15, "titleY": 183}}
    }},
   {"data": {"name": "a_pts"}, "transform": [{"filter": "datum.s == 'c'"}],
    "mark": {"type": "point", "shape": "circle", "size": 70, "filled": false, "stroke": "black", "strokeWidth": 2, "opacity": 1},
    "encoding": {
     "x": {"field": "q", "type": "quantitative", "scale": {"type": "log", "domain": [0.001, 10], "nice": false}, "axis": null},
     "y": {"field": "i", "type": "quantitative", "scale": {"type": "log", "domain": [100, 1e12], "nice": false}, "axis": null}
    }},
   {"data": {"name": "a_err"}, "mark": {"type": "rule", "color": "black", "strokeWidth": 1},
    "encoding": {
     "x": {"field": "q", "type": "quantitative", "scale": {"type": "log", "domain": [0.001, 10], "nice": false}, "axis": null},
     "y": {"field": "i", "type": "quantitative", "scale": {"type": "log", "domain": [100, 1e12], "nice": false}, "axis": null},
     "y2": {"field": "i2"}
    }},
   {"data": {"name": "a_arr"}, "mark": {"type": "line", "color": "black", "strokeWidth": 1},
    "encoding": {
     "x": {"field": "q", "type": "quantitative", "scale": {"type": "log", "domain": [0.001, 10], "nice": false}, "axis": null},
     "y": {"field": "i", "type": "quantitative", "scale": {"type": "log", "domain": [100, 1e12], "nice": false}, "axis": null},
     "detail": {"field": "g"}
    }},
   {"data": {"name": "a_arr"}, "transform": [{"filter": "datum.g == 'p8' && datum.q < 0.1"}],
    "mark": {"type": "point", "shape": "M0,-1L-0.55,1L0.55,1Z", "size": 150, "filled": true, "color": "black", "opacity": 1, "angle": 216},
    "encoding": {
     "x": {"field": "q", "type": "quantitative", "scale": {"type": "log", "domain": [0.001, 10], "nice": false}, "axis": null},
     "y": {"field": "i", "type": "quantitative", "scale": {"type": "log", "domain": [100, 1e12], "nice": false}, "axis": null}
    }},
   {"data": {"name": "a_arr"}, "transform": [{"filter": "datum.g == 'p29' && datum.q > 0.01"}],
    "mark": {"type": "point", "shape": "M0,-1L-0.55,1L0.55,1Z", "size": 150, "filled": true, "color": "black", "opacity": 1, "angle": 28},
    "encoding": {
     "x": {"field": "q", "type": "quantitative", "scale": {"type": "log", "domain": [0.001, 10], "nice": false}, "axis": null},
     "y": {"field": "i", "type": "quantitative", "scale": {"type": "log", "domain": [100, 1e12], "nice": false}, "axis": null}
    }},
   {"data": {"name": "a_txt"}, "mark": {"type": "text", "fontSize": 23, "align": "center", "baseline": "middle"},
    "encoding": {
     "x": {"field": "q", "type": "quantitative", "scale": {"type": "log", "domain": [0.001, 10], "nice": false}, "axis": null},
     "y": {"field": "i", "type": "quantitative", "scale": {"type": "log", "domain": [100, 1e12], "nice": false}, "axis": null},
     "text": {"field": "t"}
    }},
   {"data": {"name": "a_bold"}, "mark": {"type": "text", "fontSize": 25, "fontWeight": "bold", "align": "center", "baseline": "middle"},
    "encoding": {
     "x": {"field": "q", "type": "quantitative", "scale": {"type": "log", "domain": [0.001, 10], "nice": false}, "axis": null},
     "y": {"field": "i", "type": "quantitative", "scale": {"type": "log", "domain": [100, 1e12], "nice": false}, "axis": null},
     "text": {"field": "t"}
    }},
   {"data": {"name": "a_q"}, "mark": {"type": "text", "text": "Q", "fontSize": 24, "align": "center", "baseline": "middle"},
    "encoding": {
     "x": {"field": "q", "type": "quantitative", "scale": {"type": "log", "domain": [0.001, 10], "nice": false}, "axis": null},
     "y": {"field": "i", "type": "quantitative", "scale": {"type": "log", "domain": [100, 1e12], "nice": false}, "axis": null}
    }},
   {"data": {"name": "a_q"}, "mark": {"type": "text", "fontSize": 16, "align": "left", "baseline": "middle", "dx": 9, "dy": -10},
    "encoding": {
     "x": {"field": "q", "type": "quantitative", "scale": {"type": "log", "domain": [0.001, 10], "nice": false}, "axis": null},
     "y": {"field": "i", "type": "quantitative", "scale": {"type": "log", "domain": [100, 1e12], "nice": false}, "axis": null},
     "text": {"field": "sup"}
    }},
   {"data": {"name": "a_lab"}, "mark": {"type": "text", "font": "Liberation Sans", "fontSize": 17, "fontWeight": "bold", "align": "center", "baseline": "middle"},
    "encoding": {
     "x": {"field": "q", "type": "quantitative", "scale": {"type": "log", "domain": [0.001, 10], "nice": false}, "axis": null},
     "y": {"field": "i", "type": "quantitative", "scale": {"type": "log", "domain": [100, 1e12], "nice": false}, "axis": null},
     "text": {"field": "t"}
    }}
  ],
  "resolve": {"axis": {"x": "independent", "y": "independent"}}
 },
 {
  "width": 478, "height": 407,
  "title": {"text": "Partially Dried Suspensions"},
  "layer": [
   {"data": {"name": "b_guides"}, "mark": {"type": "line", "color": "black", "strokeWidth": 1},
    "encoding": {
     "x": {"field": "q", "type": "quantitative", "scale": {"type": "log", "domain": [0.001, 10], "nice": false},
      "axis": {"orient": "top", "labels": false, "title": null, "values": [0.001,0.002,0.003,0.004,0.005,0.006,0.007,0.008,0.009,0.01,0.02,0.03,0.04,0.05,0.06,0.07,0.08,0.09,0.1,0.2,0.3,0.4,0.5,0.6,0.7,0.8,0.9,1,2,3,4,5,6,7,8,9,10], "tickSize": {"condition": {"test": "indexof([0.001,0.01,0.1,1,10],datum.value)>=0", "value": -7}, "value": -3.5}}},
     "y": {"field": "i", "type": "quantitative", "scale": {"type": "log", "domain": [100, 1e12], "nice": false},
      "axis": {"orient": "right", "labels": false, "title": null, "values": [1e2,2e2,3e2,4e2,5e2,6e2,7e2,8e2,9e2,1e3,2e3,3e3,4e3,5e3,6e3,7e3,8e3,9e3,1e4,2e4,3e4,4e4,5e4,6e4,7e4,8e4,9e4,1e5,2e5,3e5,4e5,5e5,6e5,7e5,8e5,9e5,1e6,2e6,3e6,4e6,5e6,6e6,7e6,8e6,9e6,1e7,2e7,3e7,4e7,5e7,6e7,7e7,8e7,9e7,1e8,2e8,3e8,4e8,5e8,6e8,7e8,8e8,9e8,1e9,2e9,3e9,4e9,5e9,6e9,7e9,8e9,9e9,1e10,2e10,3e10,4e10,5e10,6e10,7e10,8e10,9e10,1e11,2e11,3e11,4e11,5e11,6e11,7e11,8e11,9e11,1e12], "tickSize": {"condition": {"test": "indexof([1e2,1e3,1e4,1e5,1e6,1e7,1e8,1e9,1e10,1e11,1e12],datum.value)>=0", "value": -7}, "value": -3.5}}},
     "detail": {"field": "g"}
    }},
   {"data": {"name": "b_pts"}, "transform": [{"filter": "datum.s == 'o'"}],
    "mark": {"type": "point", "shape": "circle", "size": 70, "filled": false, "stroke": "black", "strokeWidth": 2, "opacity": 1},
    "encoding": {
     "x": {"field": "q", "type": "quantitative", "scale": {"type": "log", "domain": [0.001, 10], "nice": false},
      "axis": {"orient": "bottom", "values": [0.001,0.002,0.003,0.004,0.005,0.006,0.007,0.008,0.009,0.01,0.02,0.03,0.04,0.05,0.06,0.07,0.08,0.09,0.1,0.2,0.3,0.4,0.5,0.6,0.7,0.8,0.9,1,2,3,4,5,6,7,8,9,10], "tickSize": {"condition": {"test": "indexof([0.001,0.01,0.1,1,10],datum.value)>=0", "value": -7}, "value": -3.5},
       "labelExpr": "datum.value==0.001?'0.001':datum.value==0.01?'0.01':datum.value==0.1?'0.1':datum.value==1?'1.0':datum.value==10?'10':''",
       "labelFontSize": 25, "labelPadding": 5, "labelBaseline": "top",
       "title": "Q (nm⁻¹)", "titleFontSize": 28, "titleFontWeight": "normal", "titlePadding": 0, "titleX": 240}},
     "y": {"field": "i", "type": "quantitative", "scale": {"type": "log", "domain": [100, 1e12], "nice": false},
      "axis": {"orient": "left", "values": [1e2,2e2,3e2,4e2,5e2,6e2,7e2,8e2,9e2,1e3,2e3,3e3,4e3,5e3,6e3,7e3,8e3,9e3,1e4,2e4,3e4,4e4,5e4,6e4,7e4,8e4,9e4,1e5,2e5,3e5,4e5,5e5,6e5,7e5,8e5,9e5,1e6,2e6,3e6,4e6,5e6,6e6,7e6,8e6,9e6,1e7,2e7,3e7,4e7,5e7,6e7,7e7,8e7,9e7,1e8,2e8,3e8,4e8,5e8,6e8,7e8,8e8,9e8,1e9,2e9,3e9,4e9,5e9,6e9,7e9,8e9,9e9,1e10,2e10,3e10,4e10,5e10,6e10,7e10,8e10,9e10,1e11,2e11,3e11,4e11,5e11,6e11,7e11,8e11,9e11,1e12], "tickSize": {"condition": {"test": "indexof([1e2,1e3,1e4,1e5,1e6,1e7,1e8,1e9,1e10,1e11,1e12],datum.value)>=0", "value": -7}, "value": -3.5},
       "labelExpr": "datum.value==1e12?'10¹²':datum.value==1e10?'10¹⁰':datum.value==1e8?'10⁸':datum.value==1e6?'10⁶':datum.value==1e4?'10⁴':datum.value==100?'100':''",
       "labelFontSize": 25, "labelPadding": 20, "labelBaseline": "alphabetic", "labelOffset": -3,
       "title": ["Absolute Scattered Intensity per", "Unit Sample Volume (m⁻¹ sr⁻¹)"], "titleFontSize": 29.5, "titleFontWeight": "bold", "titleLineHeight": 40, "titlePadding": 15}}
    }},
   {"data": {"name": "b_pts"}, "transform": [{"filter": "datum.s == 'f'"}],
    "mark": {"type": "point", "shape": "circle", "size": 60, "filled": true, "color": "black", "opacity": 1},
    "encoding": {
     "x": {"field": "q", "type": "quantitative", "scale": {"type": "log", "domain": [0.001, 10], "nice": false}, "axis": null},
     "y": {"field": "i", "type": "quantitative", "scale": {"type": "log", "domain": [100, 1e12], "nice": false}, "axis": null}
    }},
   {"data": {"name": "b_leg"}, "mark": {"type": "line", "color": "black", "strokeWidth": 1.2},
    "encoding": {
     "x": {"field": "q", "type": "quantitative", "scale": {"type": "log", "domain": [0.001, 10], "nice": false}, "axis": null},
     "y": {"field": "i", "type": "quantitative", "scale": {"type": "log", "domain": [100, 1e12], "nice": false}, "axis": null},
     "detail": {"field": "g"}
    }},
   {"data": {"name": "b_legpts"}, "transform": [{"filter": "datum.s == 'o'"}],
    "mark": {"type": "point", "shape": "circle", "size": 40, "filled": true, "fill": "white", "stroke": "black", "strokeWidth": 1.4, "opacity": 1},
    "encoding": {
     "x": {"field": "q", "type": "quantitative", "scale": {"type": "log", "domain": [0.001, 10], "nice": false}, "axis": null},
     "y": {"field": "i", "type": "quantitative", "scale": {"type": "log", "domain": [100, 1e12], "nice": false}, "axis": null}
    }},
   {"data": {"name": "b_legpts"}, "transform": [{"filter": "datum.s == 'f'"}],
    "mark": {"type": "point", "shape": "circle", "size": 40, "filled": true, "color": "black", "opacity": 1},
    "encoding": {
     "x": {"field": "q", "type": "quantitative", "scale": {"type": "log", "domain": [0.001, 10], "nice": false}, "axis": null},
     "y": {"field": "i", "type": "quantitative", "scale": {"type": "log", "domain": [100, 1e12], "nice": false}, "axis": null}
    }},
   {"data": {"name": "b_txt"}, "mark": {"type": "text", "fontSize": 25, "align": "left", "baseline": "middle"},
    "encoding": {
     "x": {"field": "q", "type": "quantitative", "scale": {"type": "log", "domain": [0.001, 10], "nice": false}, "axis": null},
     "y": {"field": "i", "type": "quantitative", "scale": {"type": "log", "domain": [100, 1e12], "nice": false}, "axis": null},
     "text": {"field": "t"}
    }},
   {"data": {"name": "b_q"}, "mark": {"type": "text", "text": "Q", "fontSize": 24, "align": "center", "baseline": "middle"},
    "encoding": {
     "x": {"field": "q", "type": "quantitative", "scale": {"type": "log", "domain": [0.001, 10], "nice": false}, "axis": null},
     "y": {"field": "i", "type": "quantitative", "scale": {"type": "log", "domain": [100, 1e12], "nice": false}, "axis": null}
    }},
   {"data": {"name": "b_q"}, "mark": {"type": "text", "fontSize": 16, "align": "left", "baseline": "middle", "dx": 9, "dy": -10},
    "encoding": {
     "x": {"field": "q", "type": "quantitative", "scale": {"type": "log", "domain": [0.001, 10], "nice": false}, "axis": null},
     "y": {"field": "i", "type": "quantitative", "scale": {"type": "log", "domain": [100, 1e12], "nice": false}, "axis": null},
     "text": {"field": "sup"}
    }},
   {"data": {"name": "b_lab"}, "mark": {"type": "text", "font": "Liberation Sans", "fontSize": 17, "fontWeight": "bold", "align": "center", "baseline": "middle"},
    "encoding": {
     "x": {"field": "q", "type": "quantitative", "scale": {"type": "log", "domain": [0.001, 10], "nice": false}, "axis": null},
     "y": {"field": "i", "type": "quantitative", "scale": {"type": "log", "domain": [100, 1e12], "nice": false}, "axis": null},
     "text": {"field": "t"}
    }}
  ],
  "resolve": {"axis": {"x": "independent", "y": "independent"}}
 },
 {
  "width": 488, "height": 405,
  "title": {"text": "Completely Dried Suspensions"},
  "layer": [
   {"data": {"name": "c_guides"}, "mark": {"type": "line", "color": "black", "strokeWidth": 1},
    "encoding": {
     "x": {"field": "q", "type": "quantitative", "scale": {"type": "log", "domain": [0.0001, 1], "nice": false},
      "axis": {"orient": "top", "labels": false, "title": null, "values": [0.0001,0.0002,0.0003,0.0004,0.0005,0.0006,0.0007,0.0008,0.0009,0.001,0.002,0.003,0.004,0.005,0.006,0.007,0.008,0.009,0.01,0.02,0.03,0.04,0.05,0.06,0.07,0.08,0.09,0.1,0.2,0.3,0.4,0.5,0.6,0.7,0.8,0.9,1], "tickSize": {"condition": {"test": "indexof([0.0001,0.001,0.01,0.1,1],datum.value)>=0", "value": -7}, "value": -3.5}}},
     "y": {"field": "i", "type": "quantitative", "scale": {"type": "log", "domain": [1, 1e10], "nice": false},
      "axis": {"orient": "right", "labels": false, "title": null, "values": [1,2,3,4,5,6,7,8,9,10,20,30,40,50,60,70,80,90,1e2,2e2,3e2,4e2,5e2,6e2,7e2,8e2,9e2,1e3,2e3,3e3,4e3,5e3,6e3,7e3,8e3,9e3,1e4,2e4,3e4,4e4,5e4,6e4,7e4,8e4,9e4,1e5,2e5,3e5,4e5,5e5,6e5,7e5,8e5,9e5,1e6,2e6,3e6,4e6,5e6,6e6,7e6,8e6,9e6,1e7,2e7,3e7,4e7,5e7,6e7,7e7,8e7,9e7,1e8,2e8,3e8,4e8,5e8,6e8,7e8,8e8,9e8,1e9,2e9,3e9,4e9,5e9,6e9,7e9,8e9,9e9,1e10], "tickSize": {"condition": {"test": "indexof([1,10,100,1e3,1e4,1e5,1e6,1e7,1e8,1e9,1e10],datum.value)>=0", "value": -7}, "value": -3.5}}},
     "detail": {"field": "g"}
    }},
   {"data": {"name": "c_pts"}, "transform": [{"filter": "datum.s == 's'"}],
    "mark": {"type": "point", "shape": "square", "size": 70, "filled": false, "stroke": "black", "strokeWidth": 2, "opacity": 1},
    "encoding": {
     "x": {"field": "q", "type": "quantitative", "scale": {"type": "log", "domain": [0.0001, 1], "nice": false},
      "axis": {"orient": "bottom", "values": [0.0001,0.0002,0.0003,0.0004,0.0005,0.0006,0.0007,0.0008,0.0009,0.001,0.002,0.003,0.004,0.005,0.006,0.007,0.008,0.009,0.01,0.02,0.03,0.04,0.05,0.06,0.07,0.08,0.09,0.1,0.2,0.3,0.4,0.5,0.6,0.7,0.8,0.9,1], "tickSize": {"condition": {"test": "indexof([0.0001,0.001,0.01,0.1,1],datum.value)>=0", "value": -7}, "value": -3.5},
       "labelExpr": "datum.value==0.0001?'0.0001':datum.value==0.001?'0.001':datum.value==0.01?'0.01':datum.value==0.1?'0.1':datum.value==1?'1':''",
       "labelFontSize": 25, "labelPadding": 5, "labelBaseline": "top",
       "title": "Q (nm⁻¹)", "titleFontSize": 28, "titleFontWeight": "normal", "titlePadding": 0, "titleX": 252}},
     "y": {"field": "i", "type": "quantitative", "scale": {"type": "log", "domain": [1, 1e10], "nice": false},
      "axis": {"orient": "left", "values": [1,2,3,4,5,6,7,8,9,10,20,30,40,50,60,70,80,90,1e2,2e2,3e2,4e2,5e2,6e2,7e2,8e2,9e2,1e3,2e3,3e3,4e3,5e3,6e3,7e3,8e3,9e3,1e4,2e4,3e4,4e4,5e4,6e4,7e4,8e4,9e4,1e5,2e5,3e5,4e5,5e5,6e5,7e5,8e5,9e5,1e6,2e6,3e6,4e6,5e6,6e6,7e6,8e6,9e6,1e7,2e7,3e7,4e7,5e7,6e7,7e7,8e7,9e7,1e8,2e8,3e8,4e8,5e8,6e8,7e8,8e8,9e8,1e9,2e9,3e9,4e9,5e9,6e9,7e9,8e9,9e9,1e10], "tickSize": {"condition": {"test": "indexof([1,10,100,1e3,1e4,1e5,1e6,1e7,1e8,1e9,1e10],datum.value)>=0", "value": -7}, "value": -3.5},
       "labelExpr": "datum.value==1e10?'10¹⁰':datum.value==1e8?'10⁸':datum.value==1e6?'10⁶':datum.value==1e4?'10⁴':datum.value==100?'100':datum.value==1?'1':''",
       "labelFontSize": 25, "labelPadding": 20, "labelBaseline": "alphabetic", "labelOffset": -6,
       "title": ["Absolute Scattered Intensity per", "Unit Sample Volume (m⁻¹ sr⁻¹)"], "titleFontSize": 29.5, "titleFontWeight": "bold", "titleLineHeight": 40, "titlePadding": 15}}
    }},
   {"data": {"name": "c_pts"}, "transform": [{"filter": "datum.s == 'o'"}],
    "mark": {"type": "point", "shape": "circle", "size": 70, "filled": false, "stroke": "black", "strokeWidth": 2, "opacity": 1},
    "encoding": {
     "x": {"field": "q", "type": "quantitative", "scale": {"type": "log", "domain": [0.0001, 1], "nice": false}, "axis": null},
     "y": {"field": "i", "type": "quantitative", "scale": {"type": "log", "domain": [1, 1e10], "nice": false}, "axis": null}
    }},
   {"data": {"name": "c_pts"}, "transform": [{"filter": "datum.s == 'f'"}],
    "mark": {"type": "point", "shape": "circle", "size": 60, "filled": true, "color": "black", "opacity": 1},
    "encoding": {
     "x": {"field": "q", "type": "quantitative", "scale": {"type": "log", "domain": [0.0001, 1], "nice": false}, "axis": null},
     "y": {"field": "i", "type": "quantitative", "scale": {"type": "log", "domain": [1, 1e10], "nice": false}, "axis": null}
    }},
   {"data": {"name": "c_arr"}, "mark": {"type": "line", "color": "black", "strokeWidth": 1},
    "encoding": {
     "x": {"field": "q", "type": "quantitative", "scale": {"type": "log", "domain": [0.0001, 1], "nice": false}, "axis": null},
     "y": {"field": "i", "type": "quantitative", "scale": {"type": "log", "domain": [1, 1e10], "nice": false}, "axis": null},
     "detail": {"field": "g"}
    }},
   {"data": {"name": "c_arr"}, "transform": [{"filter": "datum.g == 'p2' && datum.i < 1e5"}],
    "mark": {"type": "point", "shape": "M0,-1L-0.55,1L0.55,1Z", "size": 150, "filled": true, "color": "black", "opacity": 1, "angle": 193.7},
    "encoding": {
     "x": {"field": "q", "type": "quantitative", "scale": {"type": "log", "domain": [0.0001, 1], "nice": false}, "axis": null},
     "y": {"field": "i", "type": "quantitative", "scale": {"type": "log", "domain": [1, 1e10], "nice": false}, "axis": null}
    }},
   {"data": {"name": "c_arr"}, "transform": [{"filter": "datum.g == 'p89' && datum.q > 0.005"}],
    "mark": {"type": "point", "shape": "M0,-1L-0.55,1L0.55,1Z", "size": 150, "filled": true, "color": "black", "opacity": 1, "angle": 81.3},
    "encoding": {
     "x": {"field": "q", "type": "quantitative", "scale": {"type": "log", "domain": [0.0001, 1], "nice": false}, "axis": null},
     "y": {"field": "i", "type": "quantitative", "scale": {"type": "log", "domain": [1, 1e10], "nice": false}, "axis": null}
    }},
   {"data": {"name": "c_bold"}, "mark": {"type": "text", "fontSize": 25, "fontWeight": "bold", "align": "center", "baseline": "middle"},
    "encoding": {
     "x": {"field": "q", "type": "quantitative", "scale": {"type": "log", "domain": [0.0001, 1], "nice": false}, "axis": null},
     "y": {"field": "i", "type": "quantitative", "scale": {"type": "log", "domain": [1, 1e10], "nice": false}, "axis": null},
     "text": {"field": "t"}
    }},
   {"data": {"name": "c_q"}, "mark": {"type": "text", "text": "Q", "fontSize": 24, "align": "center", "baseline": "middle"},
    "encoding": {
     "x": {"field": "q", "type": "quantitative", "scale": {"type": "log", "domain": [0.0001, 1], "nice": false}, "axis": null},
     "y": {"field": "i", "type": "quantitative", "scale": {"type": "log", "domain": [1, 1e10], "nice": false}, "axis": null}
    }},
   {"data": {"name": "c_q"}, "mark": {"type": "text", "fontSize": 16, "align": "left", "baseline": "middle", "dx": 9, "dy": -10},
    "encoding": {
     "x": {"field": "q", "type": "quantitative", "scale": {"type": "log", "domain": [0.0001, 1], "nice": false}, "axis": null},
     "y": {"field": "i", "type": "quantitative", "scale": {"type": "log", "domain": [1, 1e10], "nice": false}, "axis": null},
     "text": {"field": "sup"}
    }},
   {"data": {"name": "c_lab"}, "mark": {"type": "text", "font": "Liberation Sans", "fontSize": 17, "fontWeight": "bold", "align": "center", "baseline": "middle"},
    "encoding": {
     "x": {"field": "q", "type": "quantitative", "scale": {"type": "log", "domain": [0.0001, 1], "nice": false}, "axis": null},
     "y": {"field": "i", "type": "quantitative", "scale": {"type": "log", "domain": [1, 1e10], "nice": false}, "axis": null},
     "text": {"field": "t"}
    }}
  ],
  "resolve": {"axis": {"x": "independent", "y": "independent"}}
 }
],
"columns": 1,
"align": "none",
"spacing": 10
}
